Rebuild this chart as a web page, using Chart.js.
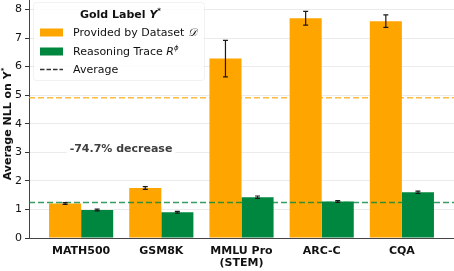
<!DOCTYPE html>
<html>
<head>
<meta charset="utf-8">
<script src="https://cdn.jsdelivr.net/npm/chart.js@4/dist/chart.umd.min.js"></script>
<style>
  html, body { margin: 0; padding: 0; background: #fff; }
  #wrap { width: 454px; height: 271px; position: relative; }
</style>
</head>
<body>
<div id="wrap"><canvas id="c" width="454" height="271"></canvas></div>
<script>
// ---- data ----
const categories = ['MATH500', 'GSM8K', ['MMLU Pro', '(STEM)'], 'ARC-C', 'CQA'];
const providedNLL = [1.21, 1.75, 6.28, 7.69, 7.59];
const providedErr = [0.03, 0.05, 0.64, 0.24, 0.22];
const reasoningNLL = [0.98, 0.90, 1.43, 1.28, 1.60];
const reasoningErr = [0.03, 0.03, 0.04, 0.03, 0.04];
const averageProvided = 4.91;
const averageReasoning = 1.24;
const yTickValues = [0, 1, 2, 3, 4, 5, 6, 7, 8];
const legendTitle = 'Gold Label ';
const legendLabels = ['Provided by Dataset ', 'Reasoning Trace ', 'Average'];
const annotationText = '-74.7% decrease';
const yTitle = 'Average NLL on ';

const ORANGE = '#FFA500';
const GREEN = '#00873F';
const X_MIN = -0.65, X_MAX = 4.65;

Chart.defaults.font.family = 'DejaVu Sans';
Chart.defaults.color = '#111';

function drawRich(ctx, segs, x, y, align) {
  let total = 0;
  for (const s of segs) { ctx.font = s.font; total += ctx.measureText(s.text).width; }
  let cx = align === 'center' ? x - total / 2 : x;
  ctx.textBaseline = 'middle';
  ctx.textAlign = 'left';
  for (const s of segs) {
    ctx.font = s.font;
    ctx.fillStyle = s.color || '#111';
    ctx.fillText(s.text, cx, y + (s.dy || 0));
    cx += ctx.measureText(s.text).width;
  }
}

const errorBars = {
  id: 'errorBars',
  afterDatasetsDraw(chart) {
    const ctx = chart.ctx;
    const ys = chart.scales.y;
    const sets = [[0, providedNLL, providedErr], [1, reasoningNLL, reasoningErr]];
    ctx.save();
    ctx.strokeStyle = '#1a1a1a';
    ctx.lineWidth = 1.2;
    for (const [di, vals, errs] of sets) {
      const meta = chart.getDatasetMeta(di);
      meta.data.forEach((el, i) => {
        const x = el.x;
        const y1 = ys.getPixelForValue(vals[i] + errs[i]);
        const y2 = ys.getPixelForValue(vals[i] - errs[i]);
        ctx.beginPath();
        ctx.moveTo(x, y1); ctx.lineTo(x, y2);
        ctx.moveTo(x - 2.5, y1); ctx.lineTo(x + 2.5, y1);
        ctx.moveTo(x - 2.5, y2); ctx.lineTo(x + 2.5, y2);
        ctx.stroke();
      });
    }
    // annotation
    const ax = 121, ay = 149.5;
    ctx.font = 'bold 11px DejaVu Sans';
    const w = ctx.measureText(annotationText).width;
    ctx.fillStyle = '#fff';
    ctx.fillRect(ax - w / 2 - 3, ay - 8, w + 6, 16);
    drawRich(ctx, [{ text: annotationText, font: 'bold 11px DejaVu Sans', color: '#404040' }], ax, ay, 'center');
    ctx.restore();
  },
  afterDraw(chart) {
    const ctx = chart.ctx;
    ctx.save();
    // y-axis title
    ctx.translate(8, 124);
    ctx.rotate(-Math.PI / 2);
    drawRich(ctx, [
      { text: yTitle, font: 'bold 11px DejaVu Sans' },
      { text: 'Y', font: 'bold 11px DejaVu Sans' },
      { text: '*', font: 'bold 7px DejaVu Sans', dy: -4 }
    ], 0, 0, 'center');
    ctx.restore();

    ctx.save();
    // legend frame
    ctx.fillStyle = 'rgba(255,255,255,0.85)';
    ctx.strokeStyle = 'rgba(0,0,0,0.05)';
    ctx.lineWidth = 1;
    ctx.beginPath();
    ctx.roundRect(33.5, 2.5, 171, 78, 3);
    ctx.fill(); ctx.stroke();
    drawRich(ctx, [
      { text: legendTitle, font: 'bold 11px DejaVu Sans' },
      { text: 'Y', font: 'bold italic 11px DejaVu Sans' },
      { text: '*', font: 'bold 7px DejaVu Sans', dy: -4 }
    ], 120.5, 15.5, 'center');
    ctx.fillStyle = ORANGE;
    ctx.fillRect(40, 28.5, 23, 8);
    drawRich(ctx, [
      { text: legendLabels[0], font: '11px DejaVu Sans' },
      { text: '\uD835\uDC9F', font: 'italic 11px DejaVu Serif' }
    ], 73, 33, 'left');
    ctx.fillStyle = GREEN;
    ctx.fillRect(40, 47.5, 23, 8);
    drawRich(ctx, [
      { text: legendLabels[1], font: '11px DejaVu Sans' },
      { text: 'R', font: 'italic 11px DejaVu Sans' },
      { text: '\u03D5', font: 'italic 7px DejaVu Sans', dy: -4 }
    ], 73, 52, 'left');
    ctx.strokeStyle = '#333';
    ctx.lineWidth = 1.5;
    ctx.setLineDash([4.5, 2]);
    ctx.beginPath();
    ctx.moveTo(40, 69.5); ctx.lineTo(63, 69.5);
    ctx.stroke();
    ctx.setLineDash([]);
    drawRich(ctx, [{ text: legendLabels[2], font: '11px DejaVu Sans' }], 73, 70, 'left');
    ctx.restore();
  }
};

const toXY = arr => arr.map((v, i) => ({ x: i, y: v }));

new Chart(document.getElementById('c'), {
  type: 'bar',
  data: {
    datasets: [
      { label: 'Provided by Dataset', data: toXY(providedNLL), backgroundColor: ORANGE,
        borderWidth: 0, order: 2, categoryPercentage: 0.8, barPercentage: 1.0 },
      { label: 'Reasoning Trace', data: toXY(reasoningNLL), backgroundColor: GREEN,
        borderWidth: 0, order: 2, categoryPercentage: 0.8, barPercentage: 1.0 },
      { type: 'line', label: 'avg provided', data: [{ x: X_MIN, y: averageProvided }, { x: X_MAX, y: averageProvided }],
        borderColor: 'rgba(255,165,0,0.75)', borderWidth: 1.6, borderDash: [6, 3], pointRadius: 0, order: 0 },
      { type: 'line', label: 'avg reasoning', data: [{ x: X_MIN, y: averageReasoning }, { x: X_MAX, y: averageReasoning }],
        borderColor: 'rgba(0,135,63,0.8)', borderWidth: 1.6, borderDash: [6, 3], pointRadius: 0, order: 0 }
    ]
  },
  options: {
    responsive: false,
    animation: false,
    devicePixelRatio: 1,
    layout: { padding: 0 },
    plugins: { legend: { display: false }, tooltip: { enabled: false } },
    scales: {
      x: {
        type: 'linear', min: X_MIN, max: X_MAX, offset: false,
        grid: { display: false, drawTicks: false, tickLength: 0 },
        border: { display: true, color: '#444', width: 1 },
        ticks: {
          stepSize: 1, includeBounds: false, autoSkip: false, maxRotation: 0,
          padding: 7,
          font: { size: 11, weight: 'bold', lineHeight: 1.1 },
          color: '#111',
          callback: v => (Number.isInteger(v) && categories[v] !== undefined) ? categories[v] : ''
        },
        afterFit(s) { s.height = 33; s.paddingLeft = 0; s.paddingRight = 0; }
      },
      y: {
        min: 0, max: 8.33,
        grid: { color: '#ebebeb', lineWidth: 1, tickColor: '#333', tickLength: 4 },
        border: { display: true, color: '#444', width: 1 },
        afterBuildTicks(s) { s.ticks = yTickValues.map(v => ({ value: v })); },
        ticks: { padding: 3, font: { size: 11 }, color: '#111' },
        afterFit(s) { s.width = 29; s.paddingTop = 0; s.paddingBottom = 0; }
      }
    }
  },
  plugins: [errorBars]
});
</script>
</body>
</html>
